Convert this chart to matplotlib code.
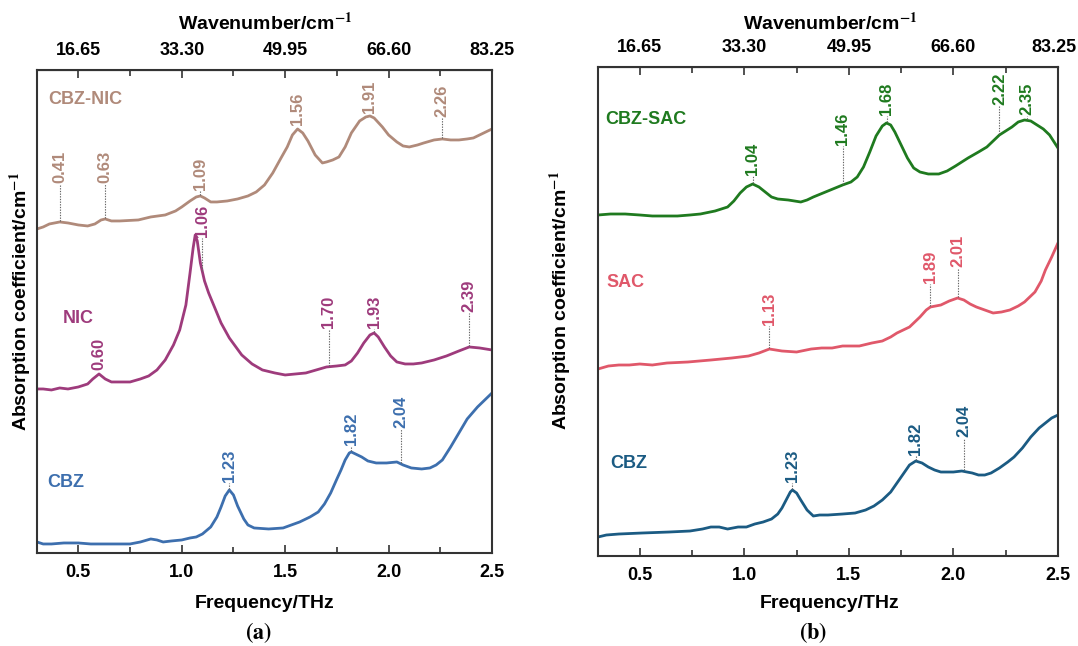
import numpy as np
import matplotlib
matplotlib.use("Agg")
import matplotlib.pyplot as plt
import matplotlib.transforms as mtrans

plt.rcParams['font.family'] = ['Liberation Sans', 'DejaVu Sans']
plt.rcParams['font.weight'] = 'bold'
plt.rcParams['mathtext.fontset'] = 'stix'

# ---- panel (a) data: frequency (THz) and absorption (a.u., offset stacked) ----
cbznic_f = [0.30, 0.33, 0.36, 0.41, 0.45, 0.50, 0.545, 0.58, 0.61, 0.63, 0.66, 0.70, 0.79, 0.85, 0.92,
            0.97, 1.00, 1.04, 1.07, 1.09, 1.11, 1.14, 1.17, 1.22, 1.27, 1.32, 1.36, 1.40, 1.44, 1.48,
            1.51, 1.535, 1.56, 1.585, 1.61, 1.645, 1.68, 1.70, 1.73, 1.76, 1.79, 1.82, 1.86, 1.89,
            1.91, 1.93, 1.97, 2.00, 2.04, 2.07, 2.10, 2.14, 2.17, 2.22, 2.26, 2.30, 2.34, 2.38, 2.41,
            2.45, 2.50]
cbznic_a = [324, 326, 329, 331, 330, 328, 327, 329, 333, 334, 332, 332, 333, 336, 338,
            342, 346, 352, 356, 357, 355, 351, 351, 352, 354, 357, 361, 368, 380, 395,
            406, 418, 424, 420, 412, 398, 390, 391, 393, 396, 406, 420, 432, 436,
            437, 435, 426, 418, 411, 407, 406, 408, 410, 413, 414, 413, 413, 414, 415,
            419, 424]

nic_f = [0.30, 0.33, 0.37, 0.41, 0.45, 0.50, 0.545, 0.57, 0.60, 0.63, 0.66, 0.70, 0.75, 0.80, 0.84,
         0.88, 0.92, 0.96, 0.99, 1.02, 1.04, 1.055, 1.065, 1.075, 1.09, 1.11, 1.13, 1.16, 1.19, 1.23,
         1.29, 1.34, 1.39, 1.45, 1.50, 1.55, 1.60, 1.65, 1.70, 1.75, 1.79, 1.82, 1.85, 1.88, 1.91,
         1.93, 1.95, 1.98, 2.01, 2.04, 2.08, 2.12, 2.16, 2.22, 2.28, 2.34, 2.39, 2.44, 2.50]
nic_a = [164, 164, 163, 165, 164, 166, 169, 174, 179, 174, 171, 171, 171, 174, 177,
         183, 193, 208, 223, 248, 280, 305, 318, 312, 290, 272, 260, 245, 230, 215,
         198, 189, 183, 180, 178, 179, 180, 183, 186, 187, 188, 192, 200, 210, 218,
         220, 216, 206, 197, 191, 189, 189, 190, 193, 197, 202, 206, 205, 203]

cbza_f = [0.30, 0.33, 0.37, 0.43, 0.50, 0.56, 0.62, 0.70, 0.75, 0.80, 0.85, 0.88, 0.91, 0.95, 1.00,
          1.04, 1.07, 1.10, 1.14, 1.17, 1.19, 1.21, 1.23, 1.25, 1.27, 1.30, 1.32, 1.35, 1.42, 1.49,
          1.53, 1.57, 1.62, 1.66, 1.69, 1.72, 1.75, 1.77, 1.79, 1.81, 1.82, 1.84, 1.87, 1.90, 1.94,
          1.99, 2.04, 2.07, 2.11, 2.16, 2.20, 2.23, 2.26, 2.30, 2.34, 2.38, 2.43, 2.47, 2.50]
cbza_a = [11, 9, 9, 10, 10, 9, 9, 9, 9, 11, 14, 13, 11, 12, 13,
          15, 16, 19, 26, 36, 46, 57, 63, 58, 47, 34, 28, 25, 24, 25,
          28, 31, 36, 41, 49, 60, 74, 83, 93, 100, 101, 99, 96, 92, 90,
          90, 91, 88, 85, 84, 85, 88, 93, 106, 120, 134, 146, 154, 160]

# ---- panel (b) data ----
cbzsac_f = [0.30, 0.36, 0.43, 0.50, 0.56, 0.62, 0.68, 0.74, 0.79, 0.86, 0.92, 0.95, 0.98, 1.01, 1.04,
            1.07, 1.10, 1.13, 1.16, 1.21, 1.27, 1.30, 1.33, 1.40, 1.47, 1.51, 1.54, 1.57, 1.60, 1.63,
            1.66, 1.68, 1.70, 1.72, 1.75, 1.78, 1.81, 1.84, 1.88, 1.93, 1.97, 2.01, 2.07, 2.12, 2.16,
            2.19, 2.22, 2.25, 2.28, 2.31, 2.34, 2.37, 2.40, 2.43, 2.46, 2.50]
cbzsac_a = [341, 342, 342, 341, 340, 340, 340, 341, 342, 345, 349, 355, 363, 369, 372,
            369, 364, 359, 357, 356, 354, 356, 359, 365, 371, 374, 379, 389, 404, 420,
            430, 433, 431, 424, 411, 398, 388, 384, 382, 382, 385, 390, 398, 404, 409,
            415, 421, 425, 429, 434, 436, 435, 431, 427, 421, 408]

sac_f = [0.30, 0.35, 0.40, 0.45, 0.50, 0.56, 0.63, 0.73, 0.84, 0.94, 1.02, 1.07, 1.12, 1.15, 1.18,
         1.25, 1.32, 1.37, 1.42, 1.47, 1.55, 1.61, 1.66, 1.70, 1.73, 1.79, 1.84, 1.87, 1.89, 1.94,
         1.98, 2.02, 2.05, 2.08, 2.11, 2.15, 2.19, 2.23, 2.27, 2.31, 2.34, 2.39, 2.42, 2.44, 2.47, 2.50]
sac_a = [187, 190, 191, 191, 192, 191, 193, 194, 196, 198, 200, 203, 207, 206, 205,
         204, 207, 208, 208, 210, 210, 213, 215, 219, 223, 229, 239, 246, 249, 251,
         255, 258, 256, 252, 249, 246, 243, 244, 246, 250, 254, 264, 275, 286, 299, 313]

cbzb_f = [0.30, 0.34, 0.40, 0.51, 0.64, 0.74, 0.80, 0.84, 0.88, 0.92, 0.97, 1.01, 1.05, 1.09, 1.13,
          1.16, 1.18, 1.20, 1.22, 1.23, 1.25, 1.27, 1.30, 1.33, 1.36, 1.40, 1.47, 1.53, 1.58, 1.62,
          1.66, 1.70, 1.73, 1.76, 1.79, 1.82, 1.85, 1.88, 1.91, 1.94, 2.00, 2.04, 2.09, 2.12, 2.15,
          2.18, 2.22, 2.26, 2.29, 2.33, 2.37, 2.41, 2.44, 2.47, 2.50]
cbzb_a = [19, 21, 22, 23, 24, 25, 27, 29, 29, 27, 29, 29, 32, 34, 37,
          42, 48, 56, 64, 66, 63, 56, 46, 40, 41, 41, 42, 43, 46, 50,
          56, 64, 73, 82, 91, 95, 93, 89, 86, 84, 84, 85, 83, 81, 81,
          83, 88, 94, 99, 108, 119, 128, 133, 138, 141]

# peak labels: text, position (THz), height of label foot
cbznic_peaks = [("0.41", 0.41, 370), ("0.63", 0.63, 370), ("1.09", 1.09, 363),
                ("1.56", 1.56, 428), ("1.91", 1.91, 440), ("2.26", 2.26, 436)]
nic_peaks = [("0.60", 0.60, 183), ("1.06", 1.10, 316), ("1.70", 1.71, 225),
             ("1.93", 1.93, 225), ("2.39", 2.39, 241)]
cbza_peaks = [("1.23", 1.23, 71), ("1.82", 1.82, 108), ("2.04", 2.06, 125)]
cbzsac_peaks = [("1.04", 1.04, 381), ("1.46", 1.47, 411), ("1.68", 1.68, 441),
                ("2.22", 2.22, 451), ("2.35", 2.35, 441)]
sac_peaks = [("1.13", 1.12, 231), ("1.89", 1.89, 273), ("2.01", 2.02, 289)]
cbzb_peaks = [("1.23", 1.23, 74), ("1.82", 1.82, 101), ("2.04", 2.05, 119)]

wn_ticks = [0.5, 1.0, 1.5, 2.0, 2.5]
wn_labels = ["16.65", "33.30", "49.95", "66.60", "83.25"]

fig = plt.figure(figsize=(10.78, 6.46), dpi=100)
ax1 = fig.add_axes([0.0343, 0.1440, 0.4221, 0.7477])
ax2 = fig.add_axes([0.5547, 0.1393, 0.4267, 0.7570])


def draw_series(ax, f, a, peaks, color, name, name_xy):
    ax.plot(f, a, color=color, lw=2.0, solid_joinstyle='round', solid_capstyle='round')
    for txt, x, y in peaks:
        ax.text(x, y, txt, rotation=90, ha='center', va='bottom', color=color,
                fontsize=12, fontweight='bold')
        yc = np.interp(x, f, a)
        if y - yc > 4:
            ax.plot([x, x], [yc + 1, y - 1], color='#666666', lw=0.8, ls=(0, (1.2, 1.2)))
    ax.text(name_xy[0], name_xy[1], name, color=color, fontsize=13, fontweight='bold',
            ha='left', va='center')


def style_axes(ax, top):
    ax.set_xlim(0.3, 2.5)
    ax.set_ylim(0, top)
    ax.set_yticks([])
    ax.set_xticks(wn_ticks)
    ax.set_xticklabels(["0.5", "1.0", "1.5", "2.0", "2.5"])
    ax.set_xticks([0.75, 1.25, 1.75, 2.25], minor=True)
    ax.tick_params(axis='x', which='both', direction='in', top=True, labeltop=False,
                   bottom=True, labelbottom=True, labelsize=13, pad=8, color='#333333')
    ax.tick_params(axis='x', which='major', length=6, width=1.2)
    ax.tick_params(axis='x', which='minor', length=4, width=1.2)
    for lab in ax.get_xticklabels():
        lab.set_fontweight('bold')
    for s in ax.spines.values():
        s.set_color('#333333')
        s.set_linewidth(1.5)
    # top axis shows wavenumber at the same positions
    sec = ax.secondary_xaxis('top', functions=(lambda v: v * 33.3, lambda v: v / 33.3))
    sec.set_xticks([v * 33.3 for v in wn_ticks])
    sec.set_xticklabels(wn_labels, fontweight='bold', fontsize=13)
    sec.tick_params(length=0, pad=8)
    return sec


sec1 = style_axes(ax1, 483)
sec2 = style_axes(ax2, 489)
# last top label of panel (b) sits against the figure edge
last = sec2.get_xticklabels()[-1]
last.set_transform(last.get_transform() + mtrans.ScaledTranslation(-4 / 100, 0, fig.dpi_scale_trans))

draw_series(ax1, cbznic_f, cbznic_a, cbznic_peaks, '#b08a7a', 'CBZ-NIC', (0.353, 453))
draw_series(ax1, nic_f, nic_a, nic_peaks, '#9e3b7c', 'NIC', (0.425, 234))
draw_series(ax1, cbza_f, cbza_a, cbza_peaks, '#3d6fae', 'CBZ', (0.35, 70))

draw_series(ax2, cbzsac_f, cbzsac_a, cbzsac_peaks, '#1f7a1f', 'CBZ-SAC', (0.333, 436))
draw_series(ax2, sac_f, sac_a, sac_peaks, '#e0586a', 'SAC', (0.341, 273))
draw_series(ax2, cbzb_f, cbzb_a, cbzb_peaks, '#1b5b83', 'CBZ', (0.357, 93))

for cx in (265 / 1078, 830 / 1078):
    fig.text(cx, 1 - 23 / 646, 'Wavenumber/cm$^{\\mathbf{-1}}$', ha='center', va='center',
             fontsize=14, fontweight='bold')
    fig.text(cx, 1 - 603 / 646, 'Frequency/THz', ha='center', va='center',
             fontsize=14, fontweight='bold')

fig.text(21 / 1078, 1 - 301 / 646, 'Absorption coefficient/cm$^{\\mathbf{-1}}$', rotation=90,
         ha='center', va='center', fontsize=14, fontweight='bold')
fig.text(561 / 1078, 1 - 300 / 646, 'Absorption coefficient/cm$^{\\mathbf{-1}}$', rotation=90,
         ha='center', va='center', fontsize=14, fontweight='bold')

fig.text(258 / 1078, 1 - 633 / 646, r'$(\mathbf{a})$', ha='center', va='center', fontsize=16)
fig.text(813 / 1078, 1 - 633 / 646, r'$(\mathbf{b})$', ha='center', va='center', fontsize=16)

fig.savefig('out.png', dpi=100)
